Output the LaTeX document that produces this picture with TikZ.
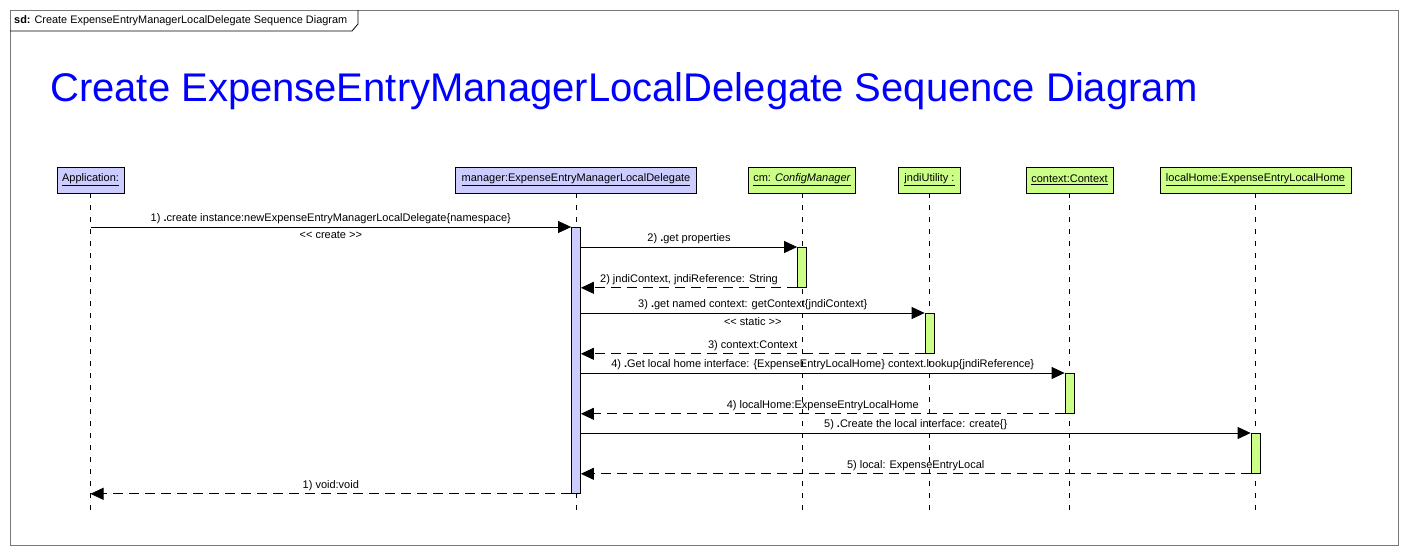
\documentclass[tikz,border=0pt]{standalone}
\usepackage{fontspec}
\setmainfont{Liberation Sans}
\usetikzlibrary{arrows.meta}
\definecolor{lav}{RGB}{204,204,255}
\definecolor{lime}{RGB}{204,255,136}
\definecolor{ttl}{RGB}{0,0,255}
\definecolor{frm}{RGB}{120,120,120}
\begin{document}
\begin{tikzpicture}[x=1pt,y=-1pt,
  head/.style={draw, line width=0.8pt, minimum height=26pt, inner sep=0pt, font=\fontsize{11}{13}\selectfont},
  lifel/.style={dash pattern=on 5pt off 7pt, line width=0.8pt},
  actbar/.style={draw, line width=0.8pt, minimum width=9pt, inner sep=0pt, anchor=north},
  msg/.style={line width=0.8pt, -{Triangle[length=13pt,width=12pt]}},
  ret/.style={msg, dash pattern=on 10pt off 6pt},
  lbl/.style={font=\fontsize{11}{13}\selectfont, inner sep=0pt}]
\useasboundingbox (0,0) rectangle (1408,555);
\fill[white] (0,0) rectangle (1408,555);
% frame
\draw[frm, line width=0.8pt] (10,10) rectangle (1398,545);
\draw[line width=0.8pt] (10,31) -- (352,31) -- (358,24) -- (358,10);
\node[anchor=west, inner sep=0pt, font=\fontsize{10.9}{12}\selectfont] (tab) at (14,20.5) {\textbf{sd:} Create ExpenseEntryManagerLocalDelegate Sequence Diagram};
% title
\node[anchor=west, inner sep=0pt, text=ttl, font=\fontsize{40}{48}\selectfont] (title) at (50,91) {Create ExpenseEntryManagerLocalDelegate Sequence Diagram};
% heads
\node[head, fill=lav, minimum width=67pt] (app) at (90.5,180) {\underline{Application:}};
\node[head, fill=lav, minimum width=241pt] (mgr) at (576,180) {\underline{manager:ExpenseEntryManagerLocalDelegate}};
\node[head, fill=lime, minimum width=107pt] (cm) at (802,180) {\underline{cm: \textit{ConfigManager}}};
\node[head, fill=lime, minimum width=62pt] (jndi) at (929.5,180) {\underline{jndiUtility :}};
\node[head, fill=lime, minimum width=87pt] (ctx) at (1069.5,180) {\underline{context:Context}};
\node[head, fill=lime, minimum width=191pt] (lh) at (1255.5,180) {\underline{localHome:ExpenseEntryLocalHome}};
\coordinate (bot) at (0,512);
% lifelines
\foreach \n in {app,mgr,cm,jndi,ctx,lh}{\draw[lifel] (\n.south) -- (\n.south |- bot);}
% activation bars
\node[actbar, fill=lav, minimum height=266pt] (mact) at (mgr.south |- 0,227) {};
\node[actbar, fill=lime, minimum height=40pt] (cmact) at (cm.south |- 0,247) {};
\node[actbar, fill=lime, minimum height=40pt] (jact) at (jndi.south |- 0,313) {};
\node[actbar, fill=lime, minimum height=40pt] (cact) at (ctx.south |- 0,373) {};
\node[actbar, fill=lime, minimum height=40pt] (lact) at (lh.south |- 0,433) {};
% messages
\draw[msg] (app.south |- mact.north) -- (mact.north west)
  node[lbl, midway, above=3pt] (m1) {1) \textbf{.}create instance:newExpenseEntryManagerLocalDelegate\{namespace\}}
  node[lbl, midway, below=4pt] (m1s) {<{}< create >{}>};
\draw[msg] (mact.east |- cmact.north) -- (cmact.north west)
  node[lbl, midway, above=3pt] (m2) {2) \textbf{.}get properties};
\draw[ret] (cmact.south west) -- (mact.east |- cmact.south)
  node[lbl, midway, above=3pt] (r2) {2) jndiContext, jndiReference: String};
\draw[msg] (mact.east |- jact.north) -- (jact.north west)
  node[lbl, midway, above=3pt] (m3) {3) \textbf{.}get named context: getContext\{jndiContext\}}
  node[lbl, midway, below=4pt] (m3s) {<{}< static >{}>};
\draw[ret] (jact.south west) -- (mact.east |- jact.south)
  node[lbl, midway, above=3pt] (r3) {3) context:Context};
\draw[msg] (mact.east |- cact.north) -- (cact.north west)
  node[lbl, midway, above=3pt] (m4) {4) \textbf{.}Get local home interface: \{ExpenseEntryLocalHome\} context.lookup\{jndiReference\}};
\draw[ret] (cact.south west) -- (mact.east |- cact.south)
  node[lbl, midway, above=3pt] (r4) {4) localHome:ExpenseEntryLocalHome};
\draw[msg] (mact.east |- lact.north) -- (lact.north west)
  node[lbl, midway, above=3pt] (m5) {5) \textbf{.}Create the local interface: create\{\}};
\draw[ret] (lact.south west) -- (mact.east |- lact.south)
  node[lbl, midway, above=3pt] (r5) {5) local: ExpenseEntryLocal};
\draw[ret] (mact.south west) -- (app.south |- mact.south)
  node[lbl, midway, above=3pt] (r1) {1) void:void};
\end{tikzpicture}
\end{document}
